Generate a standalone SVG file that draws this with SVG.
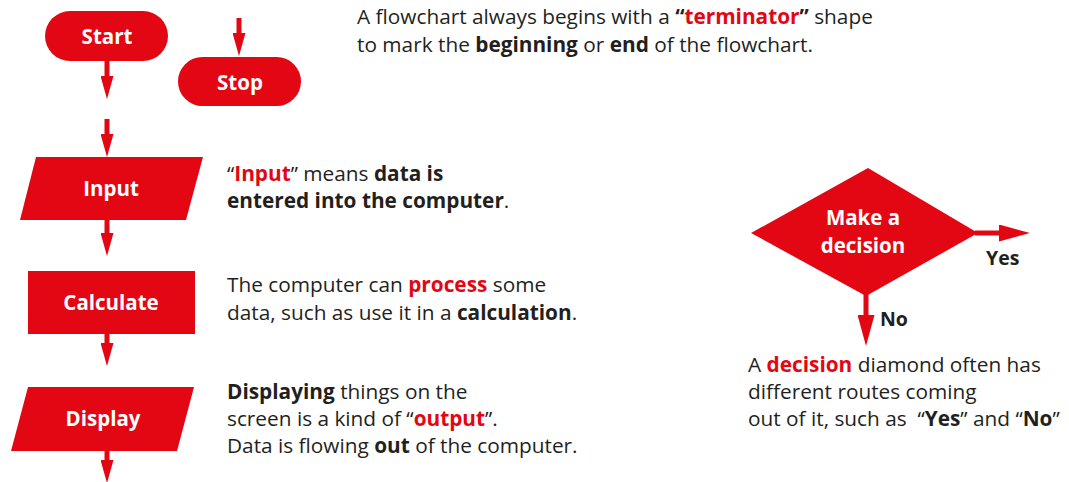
<svg xmlns="http://www.w3.org/2000/svg" width="1069" height="482" viewBox="0 0 1069 482">
<style>
.shape{fill:#e30613}
.lbl{font-family:"Open Sans","Noto Sans",sans-serif;font-weight:bold;font-size:20.5px;fill:#fff;text-anchor:middle}
.txt{font-family:"Open Sans","Noto Sans",sans-serif;font-size:20.8px;fill:#231f20}
.b{font-weight:bold}
.r{font-weight:bold;fill:#e30613}
.conn{stroke:#e30613;stroke-width:5;fill:none}
.yn{font-family:"Open Sans","Noto Sans",sans-serif;font-weight:bold;font-size:19.5px;fill:#231f20}
</style>
<defs>
<marker id="ah" markerUnits="userSpaceOnUse" markerWidth="23" markerHeight="13" refX="0" refY="6.5" orient="auto" viewBox="0 0 23 13">
<path d="M0,0 L23,6.5 L0,13 Z" fill="#e30613"/>
</marker>
<marker id="ahb" markerUnits="userSpaceOnUse" markerWidth="31" markerHeight="17" refX="0" refY="8.5" orient="auto" viewBox="0 0 31 17">
<path d="M0,0 L31,8.5 L0,17 Z" fill="#e30613"/>
</marker>
</defs>
<rect width="1069" height="482" fill="#fff"/>
<g id="connectors">
<line class="conn" x1="107" y1="60" x2="107" y2="76" marker-end="url(#ah)"/>
<line class="conn" x1="239" y1="18" x2="239" y2="33" marker-end="url(#ah)"/>
<line class="conn" x1="107" y1="119" x2="107" y2="134" marker-end="url(#ah)"/>
<line class="conn" x1="107" y1="219" x2="107" y2="233" marker-end="url(#ah)"/>
<line class="conn" x1="107" y1="333" x2="107" y2="343" marker-end="url(#ah)"/>
<line class="conn" x1="107" y1="450" x2="107" y2="460" marker-end="url(#ah)"/>
<line class="conn" x1="975" y1="233" x2="999" y2="233" marker-end="url(#ahb)"/>
<line class="conn" x1="866" y1="294" x2="866" y2="315" marker-end="url(#ahb)"/>
</g>
<g id="start">
<rect class="shape" x="45" y="11" width="123" height="50" rx="25"/>
<text class="lbl" x="107" y="44">Start</text>
</g>
<g id="stop">
<rect class="shape" x="178" y="57" width="123" height="49" rx="24.5"/>
<text class="lbl" x="240" y="90">Stop</text>
</g>
<g id="input">
<polygon class="shape" points="36,157 203,157 186,220 20,220"/>
<text class="lbl" x="111" y="196">Input</text>
</g>
<g id="calculate">
<rect class="shape" x="28" y="271" width="167" height="63"/>
<text class="lbl" x="111" y="310">Calculate</text>
</g>
<g id="display">
<polygon class="shape" points="28,387 194,387 177,451 11,451"/>
<text class="lbl" x="103" y="426">Display</text>
</g>
<g id="decision">
<polygon class="shape" points="868,168 978,233 866,296 751,233"/>
<text class="lbl" x="863" y="225">Make a</text>
<text class="lbl" x="863" y="253">decision</text>
</g>
<text class="yn" x="986" y="265">Yes</text>
<text class="yn" x="880" y="326">No</text>
<text class="txt" x="357" y="24">A flowchart always begins with a <tspan class="b">“</tspan><tspan class="r">terminator</tspan><tspan class="b">”</tspan> shape</text>
<text class="txt" x="357" y="52">to mark the <tspan class="b">beginning</tspan> or <tspan class="b">end</tspan> of the flowchart.</text>
<text class="txt" x="227" y="181">“<tspan class="r">Input</tspan>” means <tspan class="b">data is</tspan></text>
<text class="txt" x="227" y="208"><tspan class="b">entered into the computer</tspan>.</text>
<text class="txt" x="227" y="292">The computer can <tspan class="r">process</tspan> some</text>
<text class="txt" x="227" y="320">data, such as use it in a <tspan class="b">calculation</tspan>.</text>
<text class="txt" x="227" y="399"><tspan class="b">Displaying</tspan> things on the</text>
<text class="txt" x="227" y="426">screen is a kind of “<tspan class="r">output</tspan>”.</text>
<text class="txt" x="227" y="453">Data is flowing <tspan class="b">out</tspan> of the computer.</text>
<text class="txt" x="748" y="372">A <tspan class="r">decision</tspan> diamond often has</text>
<text class="txt" x="748" y="399">different routes coming</text>
<text class="txt" x="748" y="426">out of it, such as&#160; “<tspan class="b">Yes</tspan>” and “<tspan class="b">No</tspan>”</text>
</svg>
